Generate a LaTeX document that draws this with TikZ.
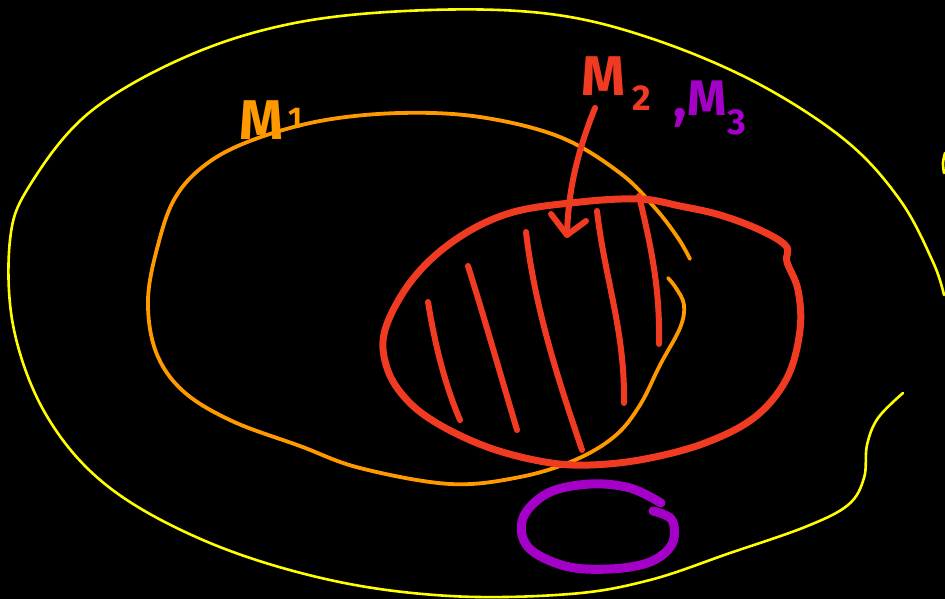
\documentclass[tikz,border=0pt]{standalone}
\usepackage{fontspec}
\setsansfont{Fira Sans}
\definecolor{yel}{HTML}{FFFF00}
\definecolor{org}{HTML}{FF9900}
\definecolor{rd}{HTML}{F03A22}
\definecolor{pur}{HTML}{A400C8}
\begin{document}
\begin{tikzpicture}[x=1pt,y=-1pt,line cap=round,line join=round,
  yelline/.style={draw=yel,line width=2.6pt},
  orgline/.style={draw=org,line width=3.8pt},
  redline/.style={draw=rd,line width=7pt},
  hatch/.style={draw=rd,line width=6pt},
  purline/.style={draw=pur,line width=9pt},
  lbl/.style={font=\sffamily\bfseries\fontsize{56}{56}\selectfont,inner sep=0pt},
  sub/.style={font=\sffamily\bfseries\fontsize{36}{36}\selectfont,inner sep=0pt}]
\fill[black] (0,0) rectangle (945,599);
\useasboundingbox (0,0) rectangle (945,599);
% outer yellow set
\draw[yelline] plot[smooth,tension=0.6] coordinates {(903,393) (878,418) (867,445) (864,478) (848,505) (805,527) (730,553) (650,580) (570,594) (450,596) (330,580) (210,543) (110,488) (48,418) (14,330) (10,240) (30,185) (90,112) (190,55) (300,22) (430,10) (550,14) (650,38) (755,82) (845,140) (900,200) (933,262) (944,295)};
\draw[yelline] plot[smooth,tension=0.6] coordinates {(945,153) (943,163) (944,173)};
% orange M1
\draw[orgline] plot[smooth,tension=0.6] coordinates {(690,259) (678,238) (655,208) (620,173) (560,137) (480,117) (400,113) (320,121) (250,141) (205,165) (175,198) (158,245) (148,300) (156,352) (183,391) (232,421) (300,446) (360,468) (450,484) (520,477) (575,460) (615,436) (640,405) (660,365) (680,328) (684,305) (676,288) (668,278)};
% red M2 blob
\draw[redline] plot[smooth cycle,tension=0.6] coordinates {(640,199) (580,202) (510,213) (455,240) (412,280) (385,330) (387,368) (407,400) (440,425) (490,448) (545,462) (590,465) (645,459) (705,443) (755,417) (787,378) (800,330) (798,290) (787,262) (786,246) (760,230) (720,215) (680,206)};
% hatching
\draw[hatch] (428,302) .. controls (435,345) and (445,385) .. (460,420);
\draw[hatch] (468,266) .. controls (485,320) and (502,380) .. (517,430);
\draw[hatch] (526,232) .. controls (535,310) and (560,385) .. (582,450);
\draw[hatch] (597,211) .. controls (605,280) and (625,330) .. (624,403);
\draw[hatch] (639,196) .. controls (652,250) and (660,290) .. (659,344);
% arrow
\coordinate (arrS) at (595,108);
\coordinate (arrE) at (567,235);
\draw[redline,line width=6pt] (arrS) .. controls (578,150) and (568,190) .. (arrE);
\draw[redline,line width=6pt] (551,214) -- (arrE) -- (586,221);
% purple M3 set
\draw[purline] plot[smooth,tension=0.6] coordinates {(661,503) (630,488) (590,484) (548,493) (523,518) (528,547) (565,566) (610,569) (650,562) (672,544) (672,520) (653,511)};
% labels
\node[lbl,text=org] (m1) at (262,120) {M};
\node[sub,text=org,font=\sffamily\bfseries\fontsize{30}{30}\selectfont] (m1s) at (295,118) {1};
\node[lbl,text=rd] (m2) at (604,76) {M};
\node[sub,text=rd] (m2s) at (642,98) {2};
\node[sub,text=pur,font=\sffamily\bfseries\fontsize{56}{56}\selectfont] (comma) at (680,118) {,};
\node[lbl,text=pur,font=\sffamily\bfseries\fontsize{50}{50}\selectfont] (m3) at (707,98) {M};
\node[sub,text=pur] (m3s) at (737,122) {3};
\end{tikzpicture}
\end{document}
